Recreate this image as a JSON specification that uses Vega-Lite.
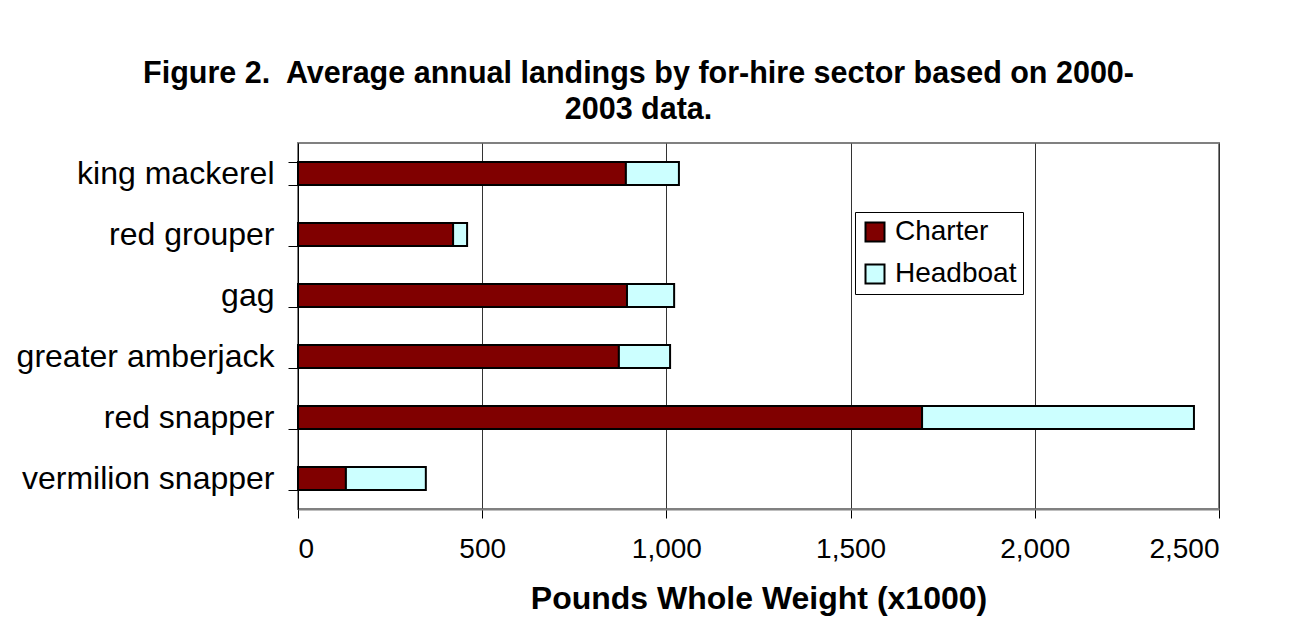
{
  "$schema": "https://vega.github.io/schema/vega-lite/v6.json",
  "autosize": {"type": "none"},
  "width": 921,
  "height": 366,
  "padding": {"left": 298, "top": 143, "right": 84, "bottom": 130},
  "background": "white",
  "title": {
    "text": ["Figure 2.\u00a0 Average annual landings by for-hire sector based on 2000-", "2003 data."],
    "anchor": "middle",
    "dx": -120,
    "fontSize": 30.5,
    "fontWeight": "bold",
    "font": "Liberation Sans",
    "lineHeight": 36,
    "offset": 2,
    "color": "black"
  },
  "data": {
    "values": [
      {"species": "king mackerel", "sector": "Charter", "pounds": 890},
      {"species": "king mackerel", "sector": "Headboat", "pounds": 144},
      {"species": "red grouper", "sector": "Charter", "pounds": 421},
      {"species": "red grouper", "sector": "Headboat", "pounds": 38},
      {"species": "gag", "sector": "Charter", "pounds": 893},
      {"species": "gag", "sector": "Headboat", "pounds": 128},
      {"species": "greater amberjack", "sector": "Charter", "pounds": 871},
      {"species": "greater amberjack", "sector": "Headboat", "pounds": 139},
      {"species": "red snapper", "sector": "Charter", "pounds": 1694},
      {"species": "red snapper", "sector": "Headboat", "pounds": 738},
      {"species": "vermilion snapper", "sector": "Charter", "pounds": 130},
      {"species": "vermilion snapper", "sector": "Headboat", "pounds": 217}
    ]
  },
  "mark": {"type": "bar", "stroke": "black", "strokeWidth": 2},
  "encoding": {
    "y": {
      "field": "species",
      "type": "nominal",
      "sort": ["king mackerel", "red grouper", "gag", "greater amberjack", "red snapper", "vermilion snapper"],
      "scale": {"paddingInner": 0.62, "paddingOuter": 0.31},
      "axis": {
        "title": null,
        "labelFontSize": 32,
        "labelFont": "Liberation Sans",
        "labelColor": "black",
        "labelPadding": 14,
        "labelLimit": 0,
        "tickBand": "extent",
        "tickSize": 10,
        "tickColor": "black",
        "domainColor": "black",
        "domainWidth": 1,
        "grid": false
      }
    },
    "x": {
      "field": "pounds",
      "type": "quantitative",
      "stack": "zero",
      "scale": {"domain": [0, 2500], "nice": false},
      "axis": {
        "title": "Pounds Whole Weight (x1000)",
        "titleFontSize": 32,
        "titleFont": "Liberation Sans",
        "titleFontWeight": "bold",
        "titleColor": "black",
        "titlePadding": 20,
        "values": [0, 500, 1000, 1500, 2000, 2500],
        "format": ",d",
        "labelFontSize": 28,
        "labelFont": "Liberation Sans",
        "labelColor": "black",
        "labelPadding": 17,
        "tickSize": 9,
        "tickColor": "black",
        "domainColor": "#808080",
        "domainWidth": 2,
        "grid": true,
        "gridColor": "#333333",
        "gridWidth": 1
      }
    },
    "color": {
      "field": "sector",
      "type": "nominal",
      "scale": {"domain": ["Charter", "Headboat"], "range": ["#800000", "#CCFFFF"]},
      "legend": {
        "title": null,
        "orient": "none",
        "legendX": 557,
        "legendY": 69,
        "symbolType": "square",
        "symbolSize": 361,
        "symbolStrokeColor": "black",
        "symbolStrokeWidth": 2,
        "labelFontSize": 28,
        "labelFont": "Liberation Sans",
        "labelColor": "black",
        "labelOffset": 6,
        "rowPadding": 14,
        "padding": 6,
        "fillColor": "white",
        "strokeColor": "black",
        "symbolOpacity": 1
      }
    },
    "order": {"field": "sector", "sort": "ascending"}
  },
  "config": {
    "view": {"stroke": "#808080", "strokeWidth": 2},
    "font": "Liberation Sans"
  }
}
